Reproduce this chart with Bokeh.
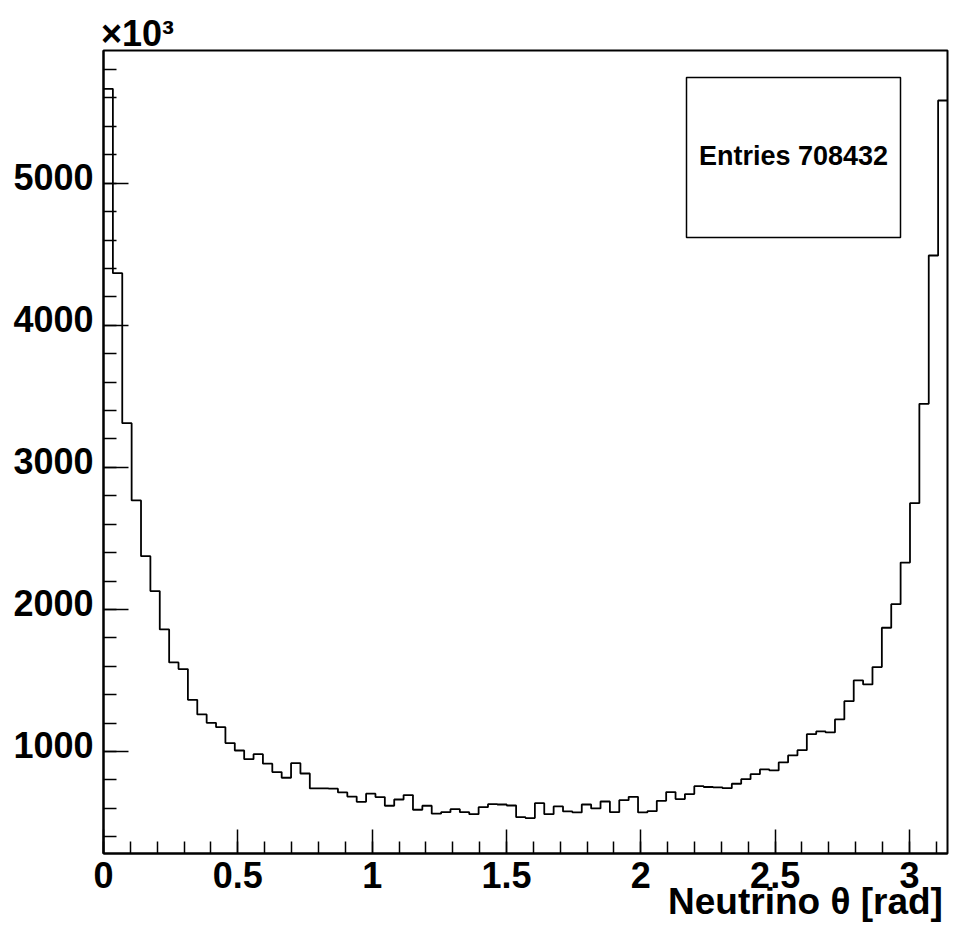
import math
from bokeh.plotting import figure
from bokeh.models import (Range1d, FixedTicker, CustomJSTickFormatter, Label, BoxAnnotation,
                          LinearAxis)
from bokeh.embed import file_html
from bokeh.resources import INLINE

# ---- data (values in units of 10^3) ----
n_bins = 90
x_min, x_max = 0.0, math.pi
counts = [5664, 4367, 3311, 2767, 2375, 2129, 1859, 1627, 1580, 1364,
          1261, 1202, 1171, 1059, 1007, 946, 981, 914, 855, 815,
          918, 845, 740, 740, 738, 712, 683, 646, 703, 679,
          618, 662, 693, 590, 618, 562, 573, 594, 573, 559,
          608, 629, 627, 620, 538, 531, 636, 559, 613, 578,
          571, 627, 599, 648, 573, 657, 681, 571, 580, 653,
          714, 665, 700, 756, 750, 748, 742, 773, 805, 840,
          874, 867, 923, 972, 1009, 1122, 1141, 1134, 1226, 1354,
          1500, 1472, 1594, 1871, 2037, 2330, 2748, 3447, 4491, 5582]
x_ticks = [0, 0.5, 1, 1.5, 2, 2.5, 3]
x_tick_labels = ["0", "0.5", "1", "1.5", "2", "2.5", "3"]
x_minor = [round(0.1 * i, 1) for i in range(0, 32)]
y_ticks = [1000, 2000, 3000, 4000, 5000]
y_tick_labels = ["1000", "2000", "3000", "4000", "5000"]
y_minor = [200 * i for i in range(1, 30)]
y_lo, y_hi = 282, 5934
entries_text = "Entries 708432"
x_title = "Neutrino \u03b8 [rad]"
exp_text = "\u00d710\u00b3"

FONT = "Liberation Sans"

# frame placement in page pixels
FL, FR, FT, FB = 103, 947, 50, 853
W, H = 950, 930

width = (x_max - x_min) / n_bins
edges = [x_min + i * width for i in range(n_bins + 1)]

p = figure(width=W, height=H, x_range=Range1d(x_min, x_max), y_range=Range1d(y_lo, y_hi),
           output_backend="svg", toolbar_location=None,
           min_border_left=FL, min_border_right=W - FR, min_border_top=FT, min_border_bottom=H - FB)
p.background_fill_color = "white"
p.border_fill_color = "white"
p.outline_line_color = "black"
p.outline_line_width = 2
p.xgrid.visible = False
p.ygrid.visible = False

def dx(px):
    return x_min + (px - FL) / (FR - FL) * (x_max - x_min)

def dy(py):
    return y_lo + (FB - py) / (FB - FT) * (y_hi - y_lo)

px_to_y = (y_hi - y_lo) / (FB - FT)

# stats box (under the histogram line, which never reaches it)
p.add_layout(BoxAnnotation(left=dx(686), right=dx(900), top=dy(77), bottom=dy(237),
                           fill_color="white", fill_alpha=1, line_color="black", line_alpha=1,
                           line_width=1.5, level="underlay"))

# histogram outline
p.step(x=edges, y=counts + [counts[-1]], mode="after", line_color="black", line_width=1.8)

# axes
fmt_code = "const i = tvals.findIndex(t => Math.abs(t - tick) < 1e-6); return i >= 0 ? tlabels[i] : '';"
xa = p.xaxis[0]
xa.ticker = FixedTicker(ticks=x_ticks, minor_ticks=x_minor)
xa.formatter = CustomJSTickFormatter(args=dict(tvals=x_ticks, tlabels=x_tick_labels), code=fmt_code)
ya = p.yaxis[0]
ya.ticker = FixedTicker(ticks=y_ticks, minor_ticks=y_minor)
ya.formatter = CustomJSTickFormatter(code="return '';")
for ax in (xa, ya):
    ax.axis_line_color = "black"
    ax.axis_line_width = 2
    ax.major_tick_line_color = "black"
    ax.minor_tick_line_color = "black"
    ax.major_tick_line_width = 1.5
    ax.minor_tick_line_width = 1.5
    ax.major_tick_out = 0
    ax.minor_tick_out = 0
    ax.major_label_text_font = FONT
    ax.major_label_text_font_style = "bold"
    ax.major_label_text_font_size = "36px"
    ax.major_label_text_color = "black"
xa.major_tick_in = 24
xa.minor_tick_in = 12
xa.major_label_standoff = 8
ya.major_tick_in = 25
ya.minor_tick_in = 13
ya.major_label_standoff = 0

def label_axis(ticks, labels, standoff, size="36px"):
    return LinearAxis(ticker=FixedTicker(ticks=ticks, minor_ticks=[]),
                      formatter=CustomJSTickFormatter(args=dict(tvals=ticks, tlabels=labels), code=fmt_code),
                      axis_line_color=None, major_tick_line_color=None, minor_tick_line_color=None,
                      major_tick_in=0, major_tick_out=0, minor_tick_in=0, minor_tick_out=0,
                      major_label_standoff=standoff, major_label_text_font=FONT,
                      major_label_text_font_style="bold", major_label_text_font_size=size,
                      major_label_text_color="black")

# y tick labels sit slightly above their ticks, as in ROOT
y_label_pos = [t + 6.5 * px_to_y for t in y_ticks]
p.add_layout(label_axis(y_label_pos, y_tick_labels, 10), "left")

# axis title, right-aligned under the axis end (ROOT style)
p.add_layout(label_axis([dx(805)], [x_title], -10, "37px"), "below")

# exponent label x10^3 above the frame
p.add_layout(label_axis([dx(137)], [exp_text], -3), "above")

p.add_layout(Label(x=dx(793), y=dy(155), text=entries_text,
                   text_font=FONT, text_font_style="bold", text_font_size="27px",
                   text_align="center", text_baseline="middle", text_color="black"))

open("out.html", "w").write(file_html(p, INLINE))
